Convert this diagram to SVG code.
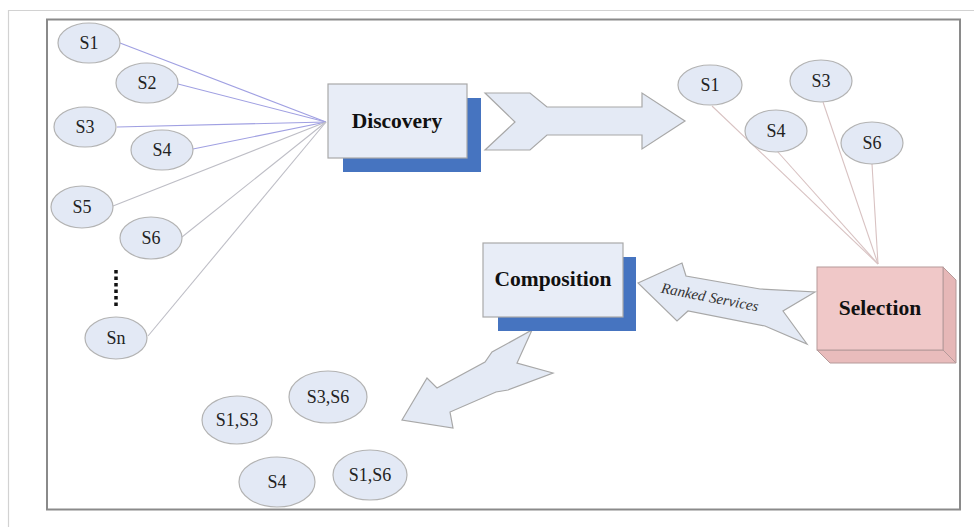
<svg xmlns="http://www.w3.org/2000/svg" width="974" height="527" viewBox="0 0 974 527">
  <style>
    .svc { fill: #e3e9f5; stroke: #b3b3b3; stroke-width: 1.2; }
    .svc-t { font-family: "Liberation Serif", "Times New Roman", serif; font-size: 18px; fill: #222; text-anchor: middle; }
    .box { fill: #e8edf7; stroke: #a9a9a9; stroke-width: 1.2; }
    .shadow { fill: #4674c0; }
    .box-t { font-family: "Liberation Serif", "Times New Roman", serif; font-size: 21.5px; font-weight: bold; fill: #111; text-anchor: middle; }
    .flow { fill: #e4eaf5; stroke: #a8a8a8; stroke-width: 1.2; stroke-linejoin: miter; }
    .in-line { stroke: #a0a0e2; stroke-width: 1.1; fill: none; }
    .in-line-g { stroke: #bebec6; stroke-width: 1.1; fill: none; }
    .out-line { stroke: #d8c2c2; stroke-width: 1.1; fill: none; }
  </style>

  <rect width="974" height="527" fill="#ffffff"/>
  <!-- page edges -->
  <path d="M8.5 527 V10.5 H974" fill="none" stroke="#d2d2d2" stroke-width="1.2"/>
  <rect x="47" y="19.5" width="913" height="490" fill="none" stroke="#8a8a8a" stroke-width="2"/>

  <!-- connectors -->
  <g id="connectors">
    <line class="in-line" x1="120" y1="43" x2="326" y2="122"/>
    <line class="in-line" x1="178" y1="84" x2="326" y2="122"/>
    <line class="in-line" x1="117" y1="127" x2="326" y2="122" stroke="#8c8ce6"/>
    <line class="in-line" x1="193" y1="149" x2="326" y2="122"/>
    <line class="in-line-g" x1="113" y1="206" x2="326" y2="122"/>
    <line class="in-line-g" x1="182" y1="237" x2="326" y2="122"/>
    <line class="in-line-g" x1="148" y1="336" x2="326" y2="122"/>

    <line class="out-line" x1="712" y1="106" x2="878" y2="264"/>
    <line class="out-line" x1="777" y1="151" x2="878" y2="264"/>
    <line class="out-line" x1="823" y1="102" x2="878" y2="264"/>
    <line class="out-line" x1="872" y1="164" x2="878" y2="264"/>

    <!-- Discovery to selection candidates -->
    <polygon id="arrow-discovered" class="flow" points="485,93 530,93 547,107 642,107 642,93 685,121 642,149 642,135 547,135 530,150 485,150 515,122"/>
    <!-- Selection to Composition -->
    <g id="arrow-ranked">
      <polygon class="flow" points="638,283 682,263 686,276 760,289 815,292 783,311 807,344 765,326 688,311 677,321"/>
      <text x="709" y="302" transform="rotate(11 709 302)" font-family="Liberation Serif, 'Times New Roman', serif" font-size="15" font-style="italic" fill="#333" text-anchor="middle">Ranked Services</text>
    </g>
    <!-- Composition output -->
    <polygon id="arrow-composed" class="flow" points="532,330 517,363 553,373 508,390 496,392 450,412 453,428 402,420 427,378 437,388 485,362 492,352"/>
  </g>

  <!-- candidate services -->
  <g id="s1"><ellipse class="svc" cx="89" cy="43" rx="31" ry="20"/><text class="svc-t" x="89" y="49">S1</text></g>
  <g id="s2"><ellipse class="svc" cx="147" cy="83" rx="31" ry="20"/><text class="svc-t" x="147" y="89">S2</text></g>
  <g id="s3"><ellipse class="svc" cx="85" cy="127" rx="31" ry="20"/><text class="svc-t" x="85" y="133">S3</text></g>
  <g id="s4"><ellipse class="svc" cx="162" cy="150" rx="31" ry="20"/><text class="svc-t" x="162" y="156">S4</text></g>
  <g id="s5"><ellipse class="svc" cx="82" cy="207" rx="31" ry="21"/><text class="svc-t" x="82" y="213">S5</text></g>
  <g id="s6"><ellipse class="svc" cx="151" cy="238" rx="31" ry="21"/><text class="svc-t" x="151" y="244">S6</text></g>
  <g id="ellipsis"><line x1="116" y1="270" x2="116" y2="306" stroke="#111" stroke-width="3.5" stroke-dasharray="3.5 3"/></g>
  <g id="sn"><ellipse class="svc" cx="116" cy="338" rx="31" ry="21"/><text class="svc-t" x="116" y="344">Sn</text></g>

  <!-- Discovery -->
  <g id="discovery">
    <rect class="shadow" x="343" y="98" width="138" height="74"/>
    <rect class="box" x="328" y="84" width="139" height="74"/>
    <text class="box-t" x="397" y="128">Discovery</text>
  </g>

  <!-- discovered services -->
  <g id="d-s1"><ellipse class="svc" cx="710" cy="85" rx="32" ry="20"/><text class="svc-t" x="710" y="91">S1</text></g>
  <g id="d-s3"><ellipse class="svc" cx="821" cy="81" rx="31" ry="21"/><text class="svc-t" x="821" y="87">S3</text></g>
  <g id="d-s4"><ellipse class="svc" cx="776" cy="131" rx="31" ry="21"/><text class="svc-t" x="776" y="137">S4</text></g>
  <g id="d-s6"><ellipse class="svc" cx="872" cy="143" rx="31" ry="21"/><text class="svc-t" x="872" y="149">S6</text></g>

  <!-- Selection -->
  <g id="selection" stroke="#b59a9a" stroke-width="1">
    <polygon points="943,267 956,280 956,363 943,350" fill="#e6b7b7"/>
    <polygon points="817,350 830,363 956,363 943,350" fill="#e9bcbc"/>
    <rect x="817" y="267" width="126" height="83" fill="#f0c8c8"/>
    <text class="box-t" x="880" y="315" stroke="none">Selection</text>
  </g>

  <!-- Composition -->
  <g id="composition">
    <rect class="shadow" x="498" y="257" width="138" height="74"/>
    <rect class="box" x="483" y="243" width="140" height="74"/>
    <text class="box-t" x="553" y="286">Composition</text>
  </g>

  <!-- composed services -->
  <g id="c-s3s6"><ellipse class="svc" cx="328" cy="397" rx="39" ry="26"/><text class="svc-t" x="328" y="403">S3,S6</text></g>
  <g id="c-s1s3"><ellipse class="svc" cx="237" cy="420" rx="35" ry="24"/><text class="svc-t" x="237" y="426">S1,S3</text></g>
  <g id="c-s4"><ellipse class="svc" cx="277" cy="482" rx="38" ry="25"/><text class="svc-t" x="277" y="488">S4</text></g>
  <g id="c-s1s6"><ellipse class="svc" cx="370" cy="475" rx="37" ry="25"/><text class="svc-t" x="370" y="481">S1,S6</text></g>
</svg>
